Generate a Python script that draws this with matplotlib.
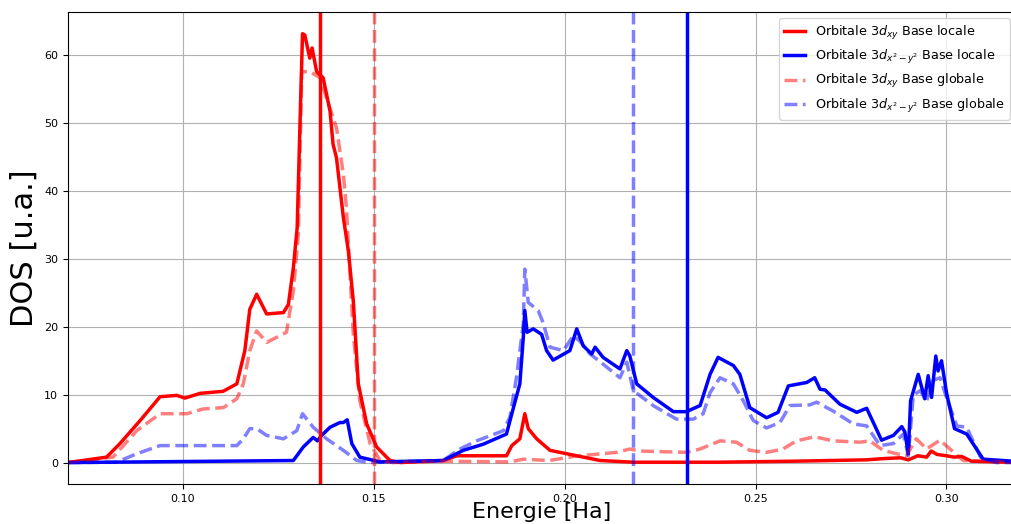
import matplotlib
matplotlib.use('Agg')
import matplotlib.pyplot as plt

# Orbitale 3dxy - base locale
e_xy_loc = [0.070, 0.0801, 0.0836, 0.0889, 0.0941, 0.0985, 0.1006, 0.1046, 0.1106, 0.1142,
            0.1163, 0.1176, 0.1194, 0.1220, 0.1264, 0.1277, 0.1290, 0.1300, 0.1309, 0.1314,
            0.1320, 0.1333, 0.1339, 0.1351, 0.1368, 0.1386, 0.1394, 0.1403, 0.1421, 0.1434,
            0.1447, 0.1460, 0.1482, 0.1508, 0.1543, 0.157, 0.1682, 0.1718, 0.1848, 0.1862,
            0.1883, 0.1896, 0.1905, 0.1927, 0.1962, 0.2032, 0.2093, 0.218, 0.240, 0.260,
            0.279, 0.284, 0.288, 0.2900, 0.2925, 0.2948, 0.2960, 0.2975, 0.300, 0.302,
            0.304, 0.3065, 0.320]
dos_xy_loc = [0.0, 0.8, 2.8, 6.2, 9.7, 9.9, 9.5, 10.2, 10.5, 11.6,
              16.5, 22.6, 24.8, 21.9, 22.1, 23.3, 28.7, 34.6, 53.2, 63.2,
              63.0, 59.6, 61.1, 57.6, 56.7, 51.8, 46.9, 44.9, 36.1, 31.2,
              23.8, 11.6, 5.7, 2.3, 0.3, 0.0, 0.3, 1.0, 1.0, 2.5,
              3.5, 7.2, 5.0, 3.5, 1.8, 1.0, 0.3, 0.05, 0.05, 0.2,
              0.4, 0.6, 0.7, 0.4, 1.0, 0.8, 1.7, 1.2, 1.0, 0.8,
              0.9, 0.2, 0.0]

# Orbitale 3dx2-y2 - base locale
e_x2y2_loc = [0.070, 0.090, 0.129, 0.1316, 0.1342, 0.1353, 0.1364, 0.1386, 0.1412, 0.1421,
              0.1431, 0.1443, 0.1464, 0.1517, 0.1682, 0.1735, 0.1787, 0.1848, 0.1862, 0.1883,
              0.1892, 0.1896, 0.1902, 0.1918, 0.1940, 0.1953, 0.1970, 0.2014, 0.2032, 0.2049,
              0.2071, 0.2080, 0.2101, 0.2145, 0.2163, 0.2171, 0.2189, 0.2232, 0.2285, 0.2319,
              0.2355, 0.2381, 0.2402, 0.2442, 0.2459, 0.2485, 0.2529, 0.2559, 0.2586, 0.2634,
              0.2655, 0.2669, 0.2682, 0.2721, 0.2765, 0.2791, 0.2830, 0.2861, 0.2883, 0.2891,
              0.2900, 0.2906, 0.2926, 0.2943, 0.2952, 0.2961, 0.2972, 0.2978, 0.2987, 0.3000,
              0.3021, 0.3053, 0.3096, 0.320]
dos_x2y2_loc = [0.0, 0.1, 0.3, 2.3, 3.7, 3.2, 4.0, 5.2, 5.9, 5.9,
                6.3, 2.8, 0.8, 0.1, 0.3, 1.8, 2.7, 4.2, 7.2, 11.6,
                18.4, 22.4, 19.2, 19.7, 18.9, 16.5, 15.1, 16.5, 19.7, 17.2,
                16.0, 17.0, 15.5, 13.8, 16.5, 15.7, 11.6, 9.6, 7.5, 7.5,
                8.4, 13.0, 15.5, 14.3, 13.0, 8.1, 6.6, 7.4, 11.3, 11.8,
                12.5, 10.8, 10.7, 8.6, 7.4, 8.0, 3.3, 4.0, 5.3, 4.5,
                1.3, 9.1, 13.0, 9.4, 12.8, 9.6, 15.7, 13.5, 15.0, 10.3,
                5.0, 4.2, 0.5, 0.1]

# Orbitale 3dxy - base globale
e_xy_glo = [0.070, 0.0818, 0.088, 0.0941, 0.1011, 0.1054, 0.1107, 0.1142, 0.1159, 0.1176,
            0.1194, 0.1220, 0.1272, 0.1290, 0.1303, 0.1312, 0.1334, 0.1360, 0.1377, 0.1403,
            0.1421, 0.1429, 0.1447, 0.1464, 0.1491, 0.1517, 0.155, 0.168, 0.1857, 0.1892,
            0.1960, 0.2023, 0.2136, 0.2171, 0.2197, 0.2320, 0.2355, 0.2407, 0.2450, 0.2485,
            0.2529, 0.2572, 0.2607, 0.2655, 0.2703, 0.2773, 0.2799, 0.2834, 0.2869, 0.2895,
            0.2921, 0.2948, 0.2983, 0.3009, 0.3044, 0.320]
dos_xy_glo = [0.0, 0.8, 4.7, 7.2, 7.2, 7.9, 8.1, 9.4, 11.6, 16.5,
              19.4, 17.7, 19.2, 25.3, 33.6, 57.6, 57.6, 56.7, 53.7, 49.3,
              42.5, 37.5, 18.9, 9.1, 2.8, 0.3, 0.0, 0.2, 0.1, 0.5,
              0.3, 0.9, 1.5, 2.0, 1.7, 1.5, 2.0, 3.2, 3.0, 1.8,
              1.5, 2.0, 3.2, 3.8, 3.2, 3.0, 3.2, 1.8, 1.3, 1.0,
              3.5, 2.0, 3.3, 2.0, 0.3, 0.0]

# Orbitale 3dx2-y2 - base globale
e_x2y2_glo = [0.070, 0.0827, 0.088, 0.0941, 0.1011, 0.1142, 0.1159, 0.1176, 0.1194, 0.1220,
              0.1264, 0.1299, 0.1314, 0.1342, 0.1377, 0.1421, 0.1456, 0.149, 0.1682, 0.1726,
              0.1770, 0.1840, 0.1857, 0.1874, 0.1892, 0.1896, 0.1905, 0.1931, 0.1944, 0.1962,
              0.1997, 0.2023, 0.2040, 0.2067, 0.2101, 0.2145, 0.2163, 0.2180, 0.2232, 0.2293,
              0.2337, 0.2363, 0.2381, 0.2407, 0.2442, 0.2468, 0.2494, 0.2529, 0.2564, 0.2590,
              0.2642, 0.2660, 0.2703, 0.2756, 0.2791, 0.2826, 0.2861, 0.2887, 0.2900, 0.2913,
              0.2931, 0.2948, 0.2965, 0.2983, 0.3000, 0.3027, 0.3053, 0.3089, 0.313, 0.320]
dos_x2y2_glo = [0.0, 0.05, 1.3, 2.5, 2.5, 2.5, 3.5, 5.0, 5.0, 4.0,
                3.5, 4.7, 7.2, 5.2, 3.5, 1.8, 0.3, 0.0, 0.3, 2.0,
                3.2, 4.7, 6.7, 12.5, 20.4, 28.5, 23.6, 22.4, 20.6, 17.0,
                16.5, 18.7, 17.9, 16.0, 14.5, 12.5, 14.8, 10.6, 8.4, 6.4,
                6.4, 7.2, 10.3, 12.5, 11.6, 9.1, 6.2, 5.1, 5.9, 8.4,
                8.5, 8.9, 7.6, 5.7, 5.4, 2.5, 2.8, 4.2, 1.0, 9.9,
                10.6, 9.1, 12.1, 12.5, 9.6, 5.4, 5.2, 0.8, 0.0, 0.0]

# Niveaux de Fermi (lignes verticales)
ef_xy_loc = 0.136
ef_xy_glo = 0.150
ef_x2y2_loc = 0.232
ef_x2y2_glo = 0.218

fig = plt.figure(figsize=(10.12, 5.24), dpi=100)
# l'axe depasse un peu a droite (image recadree)
ax = fig.add_axes([68 / 1012, 40 / 524, 948 / 1012, 472 / 524])

ax.plot(e_xy_loc, dos_xy_loc, color='red', lw=2.5, label=r'Orbitale $3d_{xy}$ Base locale')
ax.plot(e_x2y2_loc, dos_x2y2_loc, color='blue', lw=2.5, label=r'Orbitale $3d_{x^2-y^2}$ Base locale')
ax.plot(e_xy_glo, dos_xy_glo, color='red', lw=2.5, ls='--', alpha=0.5, label=r'Orbitale $3d_{xy}$ Base globale')
ax.plot(e_x2y2_glo, dos_x2y2_glo, color='blue', lw=2.5, ls='--', alpha=0.5, label=r'Orbitale $3d_{x^2-y^2}$ Base globale')

ax.axvline(ef_xy_loc, color='red', lw=2.5)
ax.axvline(ef_x2y2_loc, color='blue', lw=2.5)
ax.axvline(ef_xy_glo, color='red', lw=2.5, ls='--', alpha=0.5)
ax.axvline(ef_x2y2_glo, color='blue', lw=2.5, ls='--', alpha=0.5)

ax.set_xlim(0.07, 0.3182)
ax.set_ylim(-3.16, 66.4)
ax.set_xticks([0.10, 0.15, 0.20, 0.25, 0.30])
ax.set_xticklabels(['0.10', '0.15', '0.20', '0.25', '0.30'])
ax.tick_params(labelsize=8)
ax.grid(True)
ax.set_xlabel('Energie [Ha]', fontsize=16, labelpad=-1)
ax.set_ylabel('DOS [u.a.]', fontsize=22)
ax.legend(loc='upper right', fontsize=9.2, handlelength=1.6)

plt.savefig('out.png', dpi=100)
